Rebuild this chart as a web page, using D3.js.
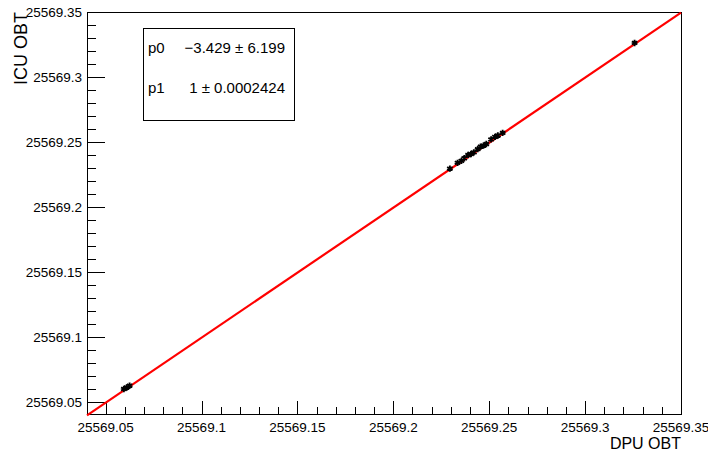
<!DOCTYPE html>
<html>
<head>
<meta charset="utf-8">
<script src="https://cdn.jsdelivr.net/npm/d3@7"></script>
<style>
body{margin:0;background:#fff;}
text{font-family:"Liberation Sans",Arial,Helvetica,sans-serif;fill:#000;}
</style>
</head>
<body>
<svg width="708" height="453"></svg>
<script>
// data
var dpuObt = [25569.0595, 25569.0610, 25569.0625,
	25569.2295, 25569.2335, 25569.2355, 25569.2370, 25569.2390, 25569.2405,
	25569.2420, 25569.2440, 25569.2455, 25569.2470, 25569.2485, 25569.2510,
	25569.2530, 25569.2545, 25569.2570, 25569.3258];
var icuObt = [25569.0600, 25569.0612, 25569.0625,
	25569.2295, 25569.2340, 25569.2355, 25569.2375, 25569.2400, 25569.2408,
	25569.2420, 25569.2445, 25569.2465, 25569.2472, 25569.2485, 25569.2520,
	25569.2540, 25569.2550, 25569.2570, 25569.3262];
var fitNames = ['p0', 'p1'];
var fitValues = ['\u22123.429 \u00b1 6.199', '1 \u00b1 0.0002424'];
var p0 = -3.429, p1 = 1.000134087;
var majorTicks = [25569.05, 25569.1, 25569.15, 25569.2, 25569.25, 25569.3, 25569.35];
var tickLabels = ['25569.05', '25569.1', '25569.15', '25569.2', '25569.25', '25569.3', '25569.35'];
var xRange = [25569.0403, 25569.35];
var yRange = [25569.0408, 25569.35];

var frameL = 87, frameR = 681, frameT = 12, frameB = 414;
var svg = d3.select('svg');

var x = d3.scaleLinear().domain(xRange).range([frameL, frameR]);
var y = d3.scaleLinear().domain(yRange).range([frameB, frameT]);

function minorTicks(dom){
	var arr = [];
	for(var i=-1;++i<40;){
		var v = 25569.0 + i*0.01;
		if(v>=dom[0]-1e-9 && v<=dom[1]+1e-9) arr.push(v);
	}
	return arr;
}

// frame
svg.append('rect')
	.attr('x', frameL+0.5).attr('y', frameT+0.5)
	.attr('width', frameR-frameL).attr('height', frameB-frameT)
	.attr('fill', 'none').attr('stroke', '#000').attr('stroke-width', 1);

// x ticks
svg.selectAll('.xminor')
	.data(minorTicks(xRange))
	.enter().append('line')
		.attr('x1', function(d){return Math.round(x(d))+0.5})
		.attr('x2', function(d){return Math.round(x(d))+0.5})
		.attr('y1', frameB).attr('y2', frameB-7)
		.attr('stroke', '#000');
svg.selectAll('.xmajor')
	.data(majorTicks)
	.enter().append('line')
		.attr('x1', function(d){return Math.round(x(d))+0.5})
		.attr('x2', function(d){return Math.round(x(d))+0.5})
		.attr('y1', frameB).attr('y2', frameB-13)
		.attr('stroke', '#000');
svg.selectAll('.xlabel')
	.data(majorTicks)
	.enter().append('text')
		.attr('x', function(d){return x(d)})
		.attr('y', frameB+18)
		.attr('text-anchor', 'middle')
		.style('font-size', '13.5px')
		.text(function(d, i){return tickLabels[i]});

// y ticks
svg.selectAll('.yminor')
	.data(minorTicks(yRange))
	.enter().append('line')
		.attr('y1', function(d){return Math.round(y(d))+0.5})
		.attr('y2', function(d){return Math.round(y(d))+0.5})
		.attr('x1', frameL).attr('x2', frameL+9)
		.attr('stroke', '#000');
svg.selectAll('.ymajor')
	.data(majorTicks)
	.enter().append('line')
		.attr('y1', function(d){return Math.round(y(d))+0.5})
		.attr('y2', function(d){return Math.round(y(d))+0.5})
		.attr('x1', frameL).attr('x2', frameL+18)
		.attr('stroke', '#000');
svg.selectAll('.ylabel')
	.data(majorTicks)
	.enter().append('text')
		.attr('x', frameL-5)
		.attr('y', function(d){return y(d)+5})
		.attr('text-anchor', 'end')
		.style('font-size', '13.5px')
		.text(function(d, i){return tickLabels[i]});

// axis titles
svg.append('text')
	.attr('x', frameR).attr('y', 449)
	.attr('text-anchor', 'end')
	.style('font-size', '16px')
	.text('DPU OBT');
svg.append('text')
	.attr('transform', 'translate(27,12) rotate(-90)')
	.attr('text-anchor', 'end')
	.style('font-size', '18px')
	.text('ICU OBT');

// fit line
var fitLine = d3.line()
	.x(function(d){return x(d)})
	.y(function(d){return y(p0 + p1*d)});
svg.append('path')
	.datum(xRange)
	.attr('d', fitLine)
	.attr('fill', 'none')
	.attr('stroke', '#ff0000')
	.attr('stroke-width', 2.2);

// data points
var pts = dpuObt.map(function(d, i){return {x: d, y: icuObt[i]}});
svg.selectAll('.pt')
	.data(pts)
	.enter().append('path')
		.attr('d', d3.symbol(d3.symbolAsterisk, 28))
		.attr('transform', function(d){return 'translate('+x(d.x)+','+y(d.y)+')'})
		.attr('fill', 'none')
		.attr('stroke', '#000')
		.attr('stroke-width', 1.9);

// stats box
svg.append('rect')
	.attr('x', 143.5).attr('y', 28.5)
	.attr('width', 151).attr('height', 92)
	.attr('fill', '#fff').attr('stroke', '#000').attr('stroke-width', 1);
svg.selectAll('.sname')
	.data(fitNames)
	.enter().append('text')
		.attr('x', 148)
		.attr('y', function(d, i){return 53 + i*40})
		.style('font-size', '15px')
		.text(function(d){return d});
svg.selectAll('.sval')
	.data(fitValues)
	.enter().append('text')
		.attr('x', 285)
		.attr('y', function(d, i){return 53 + i*40})
		.attr('text-anchor', 'end')
		.style('font-size', '15px')
		.text(function(d){return d});
</script>
</body>
</html>
